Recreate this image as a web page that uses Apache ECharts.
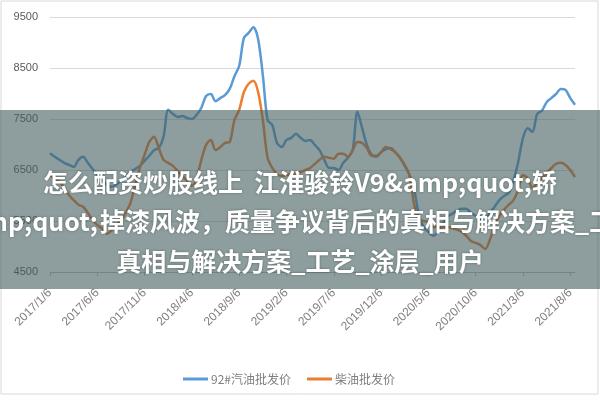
<!DOCTYPE html>
<html><head><meta charset="utf-8">
<script src="https://cdn.jsdelivr.net/npm/echarts@6/dist/echarts.min.js"></script>
<style>html,body{margin:0;padding:0;background:#fff}#c{width:600px;height:400px}</style>
</head><body><div id="c"></div>
<script>
// categories: semi-monthly dates (6th and 21st) from 2017/1 to 2021/8
const categories = [];
for (let y = 2017; y <= 2021; y++) {
  for (let m = 1; m <= 12; m++) {
    if (y === 2021 && m > 8) break;
    categories.push(y + '/' + m + '/6');
    categories.push(y + '/' + m + '/21');
  }
}
const seriesNames = ['92#汽油批发价', '柴油批发价'];
const gasoline = [
6830,6760,6700,6640,6600,6560,6700,6760,6640,6520,
6420,6300,6210,6170,6210,6290,6360,6460,6520,6580,
6680,6780,6890,6930,7150,7680,7600,7540,7560,7520,
7500,7580,7720,7950,7990,7850,7910,7970,8090,8340,
8540,9090,9190,9300,9070,8360,7480,7380,7030,6950,
7090,7130,7210,7130,7070,7090,6990,6890,6700,6540,
6540,6500,6640,6740,6890,7640,7320,6990,6800,6760,
6850,6910,6930,6850,6740,6580,6400,6110,5620,5380,
5290,5210,5290,5440,5580,5640,5700,5740,5740,5660,
5600,5540,5540,5660,5780,5910,5990,6050,6290,6660,
7130,7320,7250,7600,7660,7830,7910,7990,8090,8070,
7910,7780];
const diesel = [
6400,6340,6270,6150,6010,5910,5820,5780,5660,5520,
5420,5350,5250,5310,5420,5520,5660,5850,6210,6540,
6800,7050,7150,6930,6700,6640,6580,6480,6380,6290,
6190,6340,6700,6990,7090,6890,6950,7030,7050,7480,
7680,8030,8190,8250,8030,7480,6740,6540,6420,6380,
6400,6420,6440,6460,6500,6540,6620,6700,6760,6740,
6720,6820,6820,6760,6890,7050,7030,6930,6780,6780,
6850,6950,6910,6850,6740,6600,6400,5820,5520,5500,
5480,5380,5380,5380,5380,5360,5330,5290,5210,5110,
5070,5030,4950,5130,5420,5600,5720,5820,5910,6110,
6400,6340,6150,6250,6340,6440,6540,6620,6640,6600,
6500,6360];
const bannerLines = ['怎么配资炒股线上  江淮骏铃V9&amp;quot;轿', '&amp;quot;', '掉漆风波，质量争议背后的真相与解决方案_工艺', '真相与解决方案_工艺_涂层_用户'];

const chart = echarts.init(document.getElementById('c'));
const titleFont = 'bold 25px "Noto Sans CJK SC", sans-serif';
const shadow = {textShadowColor:'rgba(0,0,0,0.35)', textShadowBlur:3};
chart.setOption({
  animation: false,
  grid: {left: 50, right: 25, top: 17, bottom: 128},
  legend: {
    top: 368, left: 178, itemWidth: 25, itemHeight: 3, itemGap: 16, icon: 'rect',
    textStyle: {color: '#7f7f7f', fontSize: 12, padding: [0, 0, 0, -2], fontFamily: '"Noto Sans CJK SC", sans-serif'},
    data: seriesNames
  },
  xAxis: {
    type: 'category', boundaryGap: false, data: categories,
    axisLine: {lineStyle: {color: '#bfbfbf'}},
    axisTick: {interval: 9, length: 4, lineStyle: {color: '#bfbfbf'}},
    axisLabel: {interval: 9, rotate: 45, color: '#808080', fontSize: 12, margin: 19, fontFamily: 'Liberation Sans, sans-serif'}
  },
  yAxis: {
    type: 'value', min: 4500, max: 9500, interval: 1000,
    axisLine: {show: false}, axisTick: {show: false},
    axisLabel: {color: '#595959', fontSize: 11, margin: 12, fontFamily: 'Liberation Sans, sans-serif', formatter: function (v) { return String(v); }},
    splitLine: {lineStyle: {color: '#d9d9d9', width: 1}}
  },
  series: [
    {name: seriesNames[0], type: 'line', data: gasoline, symbol: 'none', smooth: 0.3,
     lineStyle: {width: 2.5, color: '#5b9bd5'}, itemStyle: {color: '#5b9bd5'}},
    {name: seriesNames[1], type: 'line', data: diesel, symbol: 'none', smooth: 0.3,
     lineStyle: {width: 2.5, color: '#ed7d31'}, itemStyle: {color: '#ed7d31'}}
  ],
  graphic: [
    {type: 'rect', z: 100, shape: {x: 1, y: 1, width: 597, height: 393}, style: {fill: 'none', stroke: '#d9d9d9', lineWidth: 1}, silent: true},
    {type: 'rect', z: 100, shape: {x: 0, y: 110, width: 600, height: 179}, style: {fill: 'rgba(67,93,93,0.6)'}, silent: true},
    {type: 'text', z: 101, x: 300, y: 182, style: Object.assign({text: bannerLines[0], fill: '#fff', font: titleFont, textAlign: 'center', textVerticalAlign: 'middle'}, shadow)},
    {type: 'text', z: 101, x: 98, y: 221, style: Object.assign({text: bannerLines[1], fill: '#fff', font: titleFont, textAlign: 'right', textVerticalAlign: 'middle'}, shadow)},
    {type: 'text', z: 101, x: 100, y: 221, style: Object.assign({text: bannerLines[2], fill: '#fff', font: titleFont, textAlign: 'left', textVerticalAlign: 'middle'}, shadow)},
    {type: 'text', z: 101, x: 300, y: 261, style: Object.assign({text: bannerLines[3], fill: '#fff', font: titleFont, textAlign: 'center', textVerticalAlign: 'middle'}, shadow)}
  ]
});
</script></body></html>
